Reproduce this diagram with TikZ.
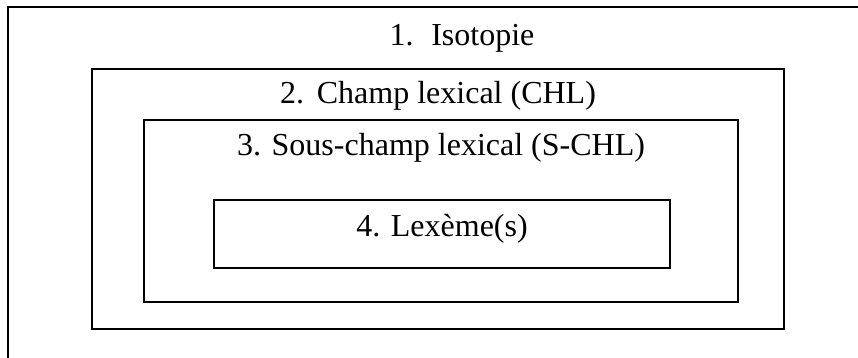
\documentclass[tikz,border=0pt]{standalone}
\usepackage{fontspec}
\setmainfont{Liberation Serif}
\usepackage{tikz}
\usetikzlibrary{positioning}

\begin{document}
\begin{tikzpicture}[
        x=0.5pt, y=-0.5pt,
        box/.style={rectangle, draw, line width=0.6pt, inner sep=0pt, outer sep=0pt},
        boxtext/.style={anchor=base, inner sep=0pt, font=\fontsize{16}{19}\selectfont}
        ]
        \useasboundingbox (0,0) rectangle (858,358);

        \begin{scope}
        \clip (0,0) rectangle (858,358);
        % Outer box (runs past the page)
        \node[box, minimum width=454pt, minimum height=196.5pt] (iso) at (462,203.5) {};
        \end{scope}

        % Nested boxes
        \node[box, minimum width=346pt, minimum height=130pt] (chl) at (438,199) {};
        \node[box, minimum width=297pt, minimum height=91pt] (schl) at (441,211) {};
        \node[box, minimum width=228pt, minimum height=34pt] (lex) at (442,234) {};

        % Labels
        \node[boxtext] (isoText) at (462,46) {1.\hspace{0.55em}Isotopie};
        \node[boxtext] (chlText) at (438,104) {2.\hspace{0.4em}Champ lexical (CHL)};
        \node[boxtext] (schlText) at (441,156) {3. Sous-champ lexical (S-CHL)};
        \node[boxtext] (lexText) at (442,237) {4. Lexème(s)};

    \end{tikzpicture}
\end{document}
